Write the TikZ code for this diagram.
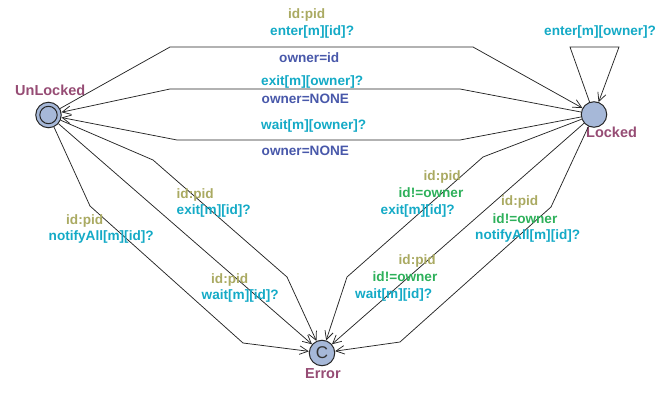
\documentclass[tikz,border=0pt]{standalone}
\usepackage{fontspec}
\setmainfont{Liberation Sans}
\usetikzlibrary{arrows.meta}
\definecolor{selcol}{RGB}{170,170,98}
\definecolor{grdcol}{RGB}{45,176,90}
\definecolor{syncol}{RGB}{20,170,198}
\definecolor{updcol}{RGB}{72,88,170}
\definecolor{namecol}{RGB}{150,76,116}
\definecolor{locfill}{RGB}{166,184,216}
\begin{document}
\begin{tikzpicture}[x=1pt,y=-1pt,
  loc/.style={circle,draw=black!85,line width=1pt,fill=locfill,minimum size=25.5pt,inner sep=0pt},
  ring/.style={circle,draw=black!85,line width=1pt,minimum size=17.4pt,inner sep=0pt},
  trans/.style={draw=black!85,line width=0.75pt,-{Straight Barb[length=8.5pt,width=8.5pt]}},
  lbl/.style={anchor=base west,inner sep=0pt,font=\bfseries\fontsize{13.6}{14}\selectfont},
  sel/.style={lbl,text=selcol},
  grd/.style={lbl,text=grdcol},
  syn/.style={lbl,text=syncol},
  upd/.style={lbl,text=updcol},
  locname/.style={anchor=base west,inner sep=0pt,text=namecol,font=\bfseries\fontsize{14.5}{15}\selectfont}]
\useasboundingbox (0,0) rectangle (667,398);

% locations
\node[loc] (unlocked) at (48.5,115) {};
\node[ring] (unlockedinit) at (unlocked) {};
\node[loc] (locked) at (594,114.5) {};
\node[loc,font=\fontsize{17}{17}\selectfont,text=black!80] (error) at (322,353) {C};

\node[locname] (nunlocked) at (15,96) {UnLocked};
\node[locname] (nlocked) at (586,138) {Locked};
\node[locname] (nerror) at (305,378) {Error};

% nails
\coordinate (a1) at (170,47);   \coordinate (a2) at (473,47);
\coordinate (b1) at (460,89);   \coordinate (b2) at (170,89);
\coordinate (c1) at (460,140);  \coordinate (c2) at (177,140);
\coordinate (d1) at (570,47);   \coordinate (d2) at (619,47);
\coordinate (e1) at (90,206);   \coordinate (e2) at (243,343);
\coordinate (f1) at (153,160);  \coordinate (f2) at (287,277);
\coordinate (g1) at (483,157);  \coordinate (g2) at (347,277);
\coordinate (h1) at (551,207);  \coordinate (h2) at (400,342);

% transitions
\draw[trans] (unlocked) -- (a1) -- (a2) -- (locked);
\draw[trans] (locked) -- (b1) -- (b2) -- (unlocked);
\draw[trans] (locked) -- (c1) -- (c2) -- (unlocked);
\draw[trans] (locked) -- (d1) -- (d2) -- (locked);
\draw[trans] (unlocked) -- (e1) -- (e2) -- (error);
\draw[trans] (unlocked) -- (error);
\draw[trans] (unlocked) -- (f1) -- (f2) -- (error);
\draw[trans] (locked) -- (g1) -- (g2) -- (error);
\draw[trans] (locked) -- (error);
\draw[trans] (locked) -- (h1) -- (h2) -- (error);

% labels: UnLocked <-> Locked
\node[sel] (l1) at (288,18.5) {id:pid};
\node[syn] (l2) at (270,36) {enter[m][id]?};
\node[upd] (l3) at (279,62.5) {owner=id};
\node[syn] (l4) at (261,86) {exit[m][owner]?};
\node[upd] (l5) at (261.5,104) {owner=NONE};
\node[syn] (l6) at (261,129.5) {wait[m][owner]?};
\node[upd] (l7) at (261.5,155.5) {owner=NONE};
\node[syn] (l8) at (544,36) {enter[m][owner]?};

% labels: UnLocked -> Error
\node[sel] (l9) at (66,225) {id:pid};
\node[syn] (l10) at (48.5,241) {notifyAll[m][id]?};
\node[sel] (l11) at (176.5,199) {id:pid};
\node[syn] (l12) at (176.5,215) {exit[m][id]?};
\node[sel] (l13) at (211,283.5) {id:pid};
\node[syn] (l14) at (201.5,299) {wait[m][id]?};

% labels: Locked -> Error
\node[sel] (l15) at (423.5,181) {id:pid};
\node[grd] (l16) at (398.5,197.5) {id!=owner};
\node[syn] (l17) at (380.5,214.5) {exit[m][id]?};
\node[sel] (l18) at (501,206) {id:pid};
\node[grd] (l19) at (492.5,223.5) {id!=owner};
\node[syn] (l20) at (475,239.5) {notifyAll[m][id]?};
\node[sel] (l21) at (398.5,265) {id:pid};
\node[grd] (l22) at (372.5,282) {id!=owner};
\node[syn] (l23) at (355,298.5) {wait[m][id]?};
\end{tikzpicture}
\end{document}
